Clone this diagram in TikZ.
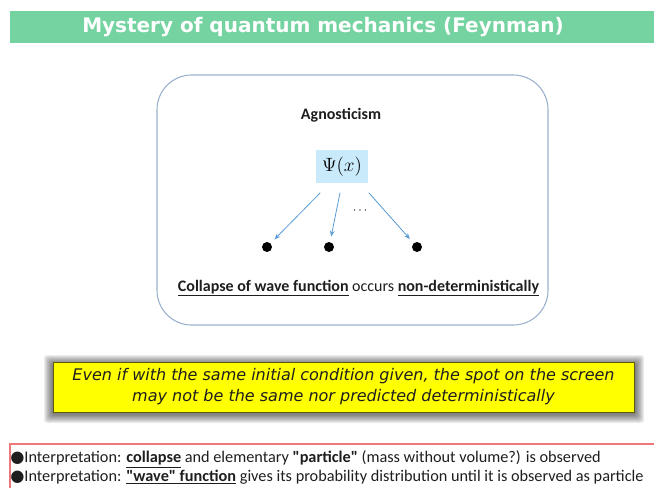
\documentclass[tikz,border=0pt]{standalone}
\usepackage{fontspec}
\setmainfont{Carlito}[Ligatures=TeXOff]
\newfontfamily\verd{DejaVu Sans}
\usetikzlibrary{arrows.meta,positioning,calc}
\definecolor{mint}{HTML}{74D3A0}
\definecolor{frameblue}{HTML}{9AB0CC}
\definecolor{psiblue}{HTML}{C9EAFB}
\definecolor{arrowblue}{HTML}{5B9BD5}
\definecolor{lemon}{HTML}{FFFF00}
\definecolor{olive}{HTML}{5A5A10}
\definecolor{rosered}{HTML}{EE7777}
\definecolor{ink}{HTML}{1E1E1E}

\begin{document}
\begin{tikzpicture}[x=0.75pt, y=-0.75pt, line cap=round,
  dot/.style={circle, fill=black, inner sep=0pt, minimum size=7.5pt},
  fan/.style={arrowblue, line width=0.6pt, -{Stealth[length=4.5pt,width=3.5pt]}, shorten >=4pt}]
  \useasboundingbox (0,0) rectangle (654,487);
  % title bar
  \fill[mint] (10,11) rectangle (654,43);
  \node[font=\verd\bfseries\fontsize{15}{17}\selectfont, text=white] (title) at (323,27) {Mystery of quantum mechanics (Feynman)};
  % agnosticism frame
  \draw[frameblue, line width=0.8pt, rounded corners=26pt] (157,75) rectangle (548,325);
  \node[font=\bfseries\fontsize{12}{14}\selectfont, text=ink] (agn) at (341,115) {Agnosticism};
  \node[fill=psiblue, minimum width=39pt, minimum height=24.75pt, inner sep=0pt, font=\fontsize{14.5}{16}\selectfont] (psi) at (342,166.5) {$\Psi(x)$};
  \coordinate (s1) at (320,193); \coordinate (s2) at (340,193); \coordinate (s3) at (369,193);
  \node[dot] (d1) at (267,247) {};
  \node[dot] (d2) at (329,247) {};
  \node[dot] (d3) at (417,247) {};
  \draw[fan] (s1) -- (d1);
  \draw[fan] (s2) -- (d2);
  \draw[fan] (s3) -- (d3);
  \node[font=\fontsize{9}{10}\selectfont] (more) at (360,211) {$\cdots$};
  \node[font=\fontsize{12}{14}\selectfont, text=ink] (collapse) at (358.5,288) {\underline{\textbf{Collapse of wave function}} occurs \underline{\textbf{non-deterministically}}};
  % yellow note with shadow
  \foreach \k in {1,...,9}
    {\fill[black, opacity=0.07, rounded corners=2pt] (53-\k,362-\k+2) rectangle (634+\k+1,412+\k+2);}
  \node[fill=lemon, draw=olive, line width=0.5pt, minimum width=435.75pt, minimum height=37.5pt, inner sep=0pt, align=center, text=ink, font=\verd\itshape\fontsize{12}{15.75}\selectfont] (note) at (343.5,387) {Even if with the same initial condition given, the spot on the screen\\ may not be the same nor predicted deterministically};
  % interpretations
  \draw[rosered, line width=0.8pt] (10,444) rectangle (664,497);
  \node[anchor=west, inner sep=0pt, text=ink, font=\fontsize{12.2}{14}\selectfont] (interp1) at (10,459) {{\verd ●}Interpretation: \underline{\textbf{collapse}} and elementary \textbf{"particle"} (mass without volume?) is observed};
  \node[anchor=west, inner sep=0pt, text=ink, font=\fontsize{12.2}{14}\selectfont] (interp2) at (10,477) {{\verd ●}Interpretation: \underline{\textbf{"wave" function}} gives its probability distribution until it is observed as particle};
\end{tikzpicture}
\end{document}
